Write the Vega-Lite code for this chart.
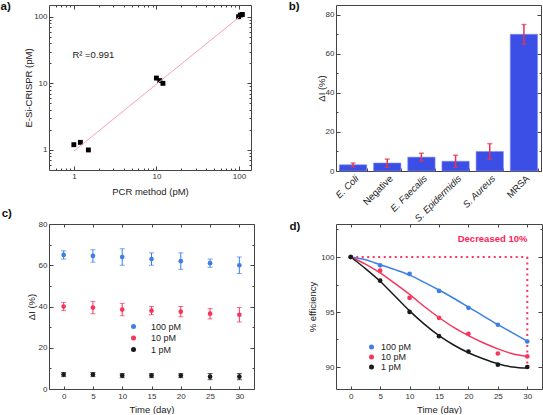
{
"$schema": "https://vega.github.io/schema/vega-lite/v6.json",
"padding": {"left": 0, "top": 0, "right": 0, "bottom": 0},
"background": "white",
"config": {
  "font": "Liberation Sans",
  "view": {"stroke": "#444", "strokeWidth": 1},
  "axis": {"domain": false, "grid": false, "labelFlush": false, "labelOverlap": false, "tickColor": "#444", "tickSize": -3, "tickWidth": 1, "labelFont": "Liberation Sans", "labelFontSize": 8, "labelColor": "#333", "labelPadding": 6, "titleFont": "Liberation Sans", "titleFontSize": 9.5, "titleFontWeight": "normal", "titleColor": "#222"},
  "title": {"anchor": "start", "frame": "group", "fontSize": 11.5, "fontWeight": "bold", "font": "Liberation Sans", "color": "#111", "offset": 0, "baseline": "alphabetic"},
  "legend": {"orient": "none", "title": null, "labelFont": "Liberation Sans", "labelColor": "#222", "symbolType": "circle", "padding": 0}
},
"columns": 2,
"spacing": {"row": 53, "column": 82},
"bounds": "flush",
"concat": [
{
  "width": 202, "height": 165,
  "title": {"text": "a)", "dx": -48.5, "dy": 12},
  "resolve": {"axis": {"x": "independent", "y": "independent"}},
  "layer": [
    {
      "data": {"values": [
        {"pcr": 1, "crispr": 1.2}, {"pcr": 1.2, "crispr": 1.3}, {"pcr": 1.5, "crispr": 1.0},
        {"pcr": 10, "crispr": 12}, {"pcr": 11, "crispr": 11}, {"pcr": 12, "crispr": 10},
        {"pcr": 99, "crispr": 100}, {"pcr": 104, "crispr": 106}, {"pcr": 110, "crispr": 108}
      ]},
      "mark": {"type": "square", "size": 24, "color": "#000", "opacity": 1},
      "encoding": {
        "x": {"field": "pcr", "type": "quantitative", "scale": {"type": "log", "domain": [0.5, 140], "nice": false},
          "axis": {"title": "PCR method (pM)", "values": [0.6,0.7,0.8,0.9,1,2,3,4,5,6,7,8,9,10,20,30,40,50,60,70,80,90,100],
            "labelExpr": "(datum.value == 1 || datum.value == 10 || datum.value == 100) ? '' + datum.value : ''",
            "tickSize": {"condition": {"test": "datum.value == 1 || datum.value == 10 || datum.value == 100", "value": -4}, "value": -2},
            "titlePadding": 4}},
        "y": {"field": "crispr", "type": "quantitative", "scale": {"type": "log", "domain": [0.5, 150], "nice": false},
          "axis": {"title": "E-Si-CRISPR (pM)", "values": [0.6,0.7,0.8,0.9,1,2,3,4,5,6,7,8,9,10,20,30,40,50,60,70,80,90,100],
            "labelExpr": "(datum.value == 1 || datum.value == 10 || datum.value == 100) ? '' + datum.value : ''",
            "tickSize": {"condition": {"test": "datum.value == 1 || datum.value == 10 || datum.value == 100", "value": -4}, "value": -2},
            "titlePadding": 0}}
      }
    },
    {
      "data": {"values": [{"pcr": 1, "crispr": 0.96}, {"pcr": 100, "crispr": 98}]},
      "mark": {"type": "line", "color": "#f5a3b8", "strokeWidth": 1},
      "encoding": {
        "x": {"field": "pcr", "type": "quantitative",
          "axis": {"orient": "top", "labels": false, "title": null, "values": [0.6,0.7,0.8,0.9,1,2,3,4,5,6,7,8,9,10,20,30,40,50,60,70,80,90,100],
            "tickSize": {"condition": {"test": "datum.value == 1 || datum.value == 10 || datum.value == 100", "value": -4}, "value": -2}}},
        "y": {"field": "crispr", "type": "quantitative",
          "axis": {"orient": "right", "labels": false, "title": null, "values": [0.6,0.7,0.8,0.9,1,2,3,4,5,6,7,8,9,10,20,30,40,50,60,70,80,90,100],
            "tickSize": {"condition": {"test": "datum.value == 1 || datum.value == 10 || datum.value == 100", "value": -4}, "value": -2}}}
      }
    },
    {
      "data": {"values": [{"pcr": 0.96, "crispr": 27, "t": "R² =0.991"}]},
      "mark": {"type": "text", "align": "left", "baseline": "middle", "fontSize": 9.5, "color": "#222", "font": "Liberation Sans"},
      "encoding": {
        "x": {"field": "pcr", "type": "quantitative", "axis": null},
        "y": {"field": "crispr", "type": "quantitative", "axis": null},
        "text": {"field": "t"}
      }
    }
  ]
},
{
  "width": 205, "height": 166,
  "title": {"text": "b)", "dx": -47.3, "dy": 11.7},
  "data": {"values": [
    {"cat": "E. Coli", "v": 3.2, "lo": 2.1, "hi": 4.1},
    {"cat": "Negative", "v": 4.1, "lo": 1.9, "hi": 6.1},
    {"cat": "E. Faecalis", "v": 7.1, "lo": 5.1, "hi": 9.1},
    {"cat": "S. Epidermidis", "v": 5, "lo": 1.9, "hi": 8.1},
    {"cat": "S. Aureus", "v": 10, "lo": 6, "hi": 14},
    {"cat": "MRSA", "v": 70, "lo": 65, "hi": 75}
  ]},
  "resolve": {"axis": {"x": "independent", "y": "independent"}},
  "layer": [
    {
      "mark": {"type": "bar", "color": "#3b4fe6", "stroke": "#7f8ff5", "strokeWidth": 0.6},
      "encoding": {
        "x": {"field": "cat", "type": "nominal", "sort": null, "scale": {"paddingInner": 0.2, "paddingOuter": 0.1},
          "axis": {"title": null, "labelAngle": -45, "labelFontSize": 9.5, "labelColor": "#222", "tickBand": "extent", "labelPadding": 5,
            "labelFontStyle": {"condition": {"test": "datum.value == 'Negative' || datum.value == 'MRSA'", "value": "normal"}, "value": "italic"}}},
        "y": {"field": "v", "type": "quantitative", "scale": {"domain": [0, 85], "nice": false},
          "axis": {"title": "ΔI (%)", "values": [0, 10, 20, 30, 40, 50, 60, 70, 80], "labelExpr": "datum.value % 20 == 0 ? datum.label : ''",
            "tickSize": {"condition": {"test": "datum.value % 20 == 0", "value": -4}, "value": -2}, "titlePadding": -1}}
      }
    },
    {
      "mark": {"type": "errorbar", "ticks": {"size": 5}, "color": "#e8334f", "thickness": 1.5},
      "encoding": {
        "x": {"field": "cat", "type": "nominal", "sort": null, "axis": null},
        "y": {"field": "lo", "type": "quantitative", "axis": null},
        "y2": {"field": "hi"}
      }
    },
    {
      "mark": {"type": "bar", "opacity": 0},
      "encoding": {
        "x": {"field": "cat", "type": "nominal", "sort": null, "axis": null},
        "y": {"field": "v", "type": "quantitative",
          "axis": {"orient": "right", "labels": false, "title": null, "values": [0, 10, 20, 30, 40, 50, 60, 70, 80],
            "tickSize": {"condition": {"test": "datum.value % 20 == 0", "value": -4}, "value": -2}}}
      }
    }
  ]
},
{
  "width": 205, "height": 165,
  "title": {"text": "c)", "dx": -47.3, "dy": 3.5},
  "data": {"values": [
    {"day": 0, "s": "100 pM", "v": 65, "lo": 63, "hi": 67},
    {"day": 5, "s": "100 pM", "v": 64.5, "lo": 61.5, "hi": 67.5},
    {"day": 10, "s": "100 pM", "v": 64, "lo": 60, "hi": 68},
    {"day": 15, "s": "100 pM", "v": 63, "lo": 60, "hi": 66},
    {"day": 20, "s": "100 pM", "v": 62, "lo": 58, "hi": 66},
    {"day": 25, "s": "100 pM", "v": 61, "lo": 59, "hi": 63},
    {"day": 30, "s": "100 pM", "v": 60, "lo": 56, "hi": 64},
    {"day": 0, "s": "10 pM", "v": 40, "lo": 38, "hi": 42},
    {"day": 5, "s": "10 pM", "v": 39.5, "lo": 36.5, "hi": 42.5},
    {"day": 10, "s": "10 pM", "v": 38.5, "lo": 35.5, "hi": 41.5},
    {"day": 15, "s": "10 pM", "v": 38, "lo": 36, "hi": 40},
    {"day": 20, "s": "10 pM", "v": 37.5, "lo": 35, "hi": 40},
    {"day": 25, "s": "10 pM", "v": 36.5, "lo": 34, "hi": 39},
    {"day": 30, "s": "10 pM", "v": 36, "lo": 32.5, "hi": 39.5},
    {"day": 0, "s": "1 pM", "v": 7, "lo": 6, "hi": 8},
    {"day": 5, "s": "1 pM", "v": 7, "lo": 6, "hi": 8},
    {"day": 10, "s": "1 pM", "v": 6.5, "lo": 5.5, "hi": 7.5},
    {"day": 15, "s": "1 pM", "v": 6.5, "lo": 5.5, "hi": 7.5},
    {"day": 20, "s": "1 pM", "v": 6.5, "lo": 5.5, "hi": 7.5},
    {"day": 25, "s": "1 pM", "v": 6, "lo": 4.5, "hi": 7.5},
    {"day": 30, "s": "1 pM", "v": 6, "lo": 4.5, "hi": 7.5}
  ]},
  "resolve": {"axis": {"x": "independent", "y": "independent"}, "legend": {"color": "independent"}},
  "layer": [
    {
      "mark": {"type": "errorbar", "ticks": {"size": 5}, "thickness": 1},
      "encoding": {
        "x": {"field": "day", "type": "quantitative", "axis": null},
        "y": {"field": "lo", "type": "quantitative", "axis": null},
        "y2": {"field": "hi"},
        "color": {"field": "s", "type": "nominal", "legend": null}
      }
    },
    {
      "mark": {"type": "circle", "size": 22, "opacity": 1},
      "encoding": {
        "x": {"field": "day", "type": "quantitative", "scale": {"domain": [-2.5, 32.5], "nice": false},
          "axis": {"title": "Time (day)", "values": [0, 5, 10, 15, 20, 25, 30], "titlePadding": 4}},
        "y": {"field": "v", "type": "quantitative", "scale": {"domain": [0, 80], "nice": false},
          "axis": {"title": "ΔI (%)", "values": [0, 10, 20, 30, 40, 50, 60, 70, 80], "labelExpr": "datum.value % 20 == 0 ? datum.label : ''",
            "tickSize": {"condition": {"test": "datum.value % 20 == 0", "value": -4}, "value": -2}, "titlePadding": 2}},
        "color": {"field": "s", "type": "nominal",
          "scale": {"domain": ["100 pM", "10 pM", "1 pM"], "range": ["#3c7fe6", "#f5365c", "#1a1a1a"]},
          "legend": {"legendX": 80, "legendY": 98, "labelFontSize": 9, "symbolSize": 25, "rowPadding": 1.5, "labelOffset": 13}}
      }
    },
    {
      "mark": {"type": "circle", "opacity": 0},
      "encoding": {
        "x": {"field": "day", "type": "quantitative", "axis": {"orient": "top", "labels": false, "title": null, "values": [0, 5, 10, 15, 20, 25, 30]}},
        "y": {"field": "v", "type": "quantitative",
          "axis": {"orient": "right", "labels": false, "title": null, "values": [0, 10, 20, 30, 40, 50, 60, 70, 80],
            "tickSize": {"condition": {"test": "datum.value % 20 == 0", "value": -4}, "value": -2}}}
      }
    }
  ]
},
{
  "width": 206, "height": 165,
  "title": {"text": "d)", "dx": -46.6, "dy": 12.5},
  "resolve": {"axis": {"x": "independent", "y": "independent"}, "legend": {"color": "independent"}},
  "layer": [
    {
      "data": {"values": [
        {"x": 0, "x2": 30, "y": 100, "y2": 100},
        {"x": 30, "x2": 30, "y": 100, "y2": 90}
      ]},
      "mark": {"type": "rule", "color": "#ff3366", "strokeWidth": 2, "strokeDash": [2, 3.5]},
      "encoding": {
        "x": {"field": "x", "type": "quantitative", "axis": null},
        "x2": {"field": "x2"},
        "y": {"field": "y", "type": "quantitative", "axis": null},
        "y2": {"field": "y2"}
      }
    },
    {
      "data": {"values": [
        {"day": 0, "s": "100 pM", "v": 100}, {"day": 2.5, "s": "100 pM", "v": 99.75}, {"day": 5, "s": "100 pM", "v": 99.3},
        {"day": 7.5, "s": "100 pM", "v": 98.85}, {"day": 10, "s": "100 pM", "v": 98.35}, {"day": 12.5, "s": "100 pM", "v": 97.7},
        {"day": 15, "s": "100 pM", "v": 97.0}, {"day": 17.5, "s": "100 pM", "v": 96.25}, {"day": 20, "s": "100 pM", "v": 95.45},
        {"day": 22.5, "s": "100 pM", "v": 94.65}, {"day": 25, "s": "100 pM", "v": 93.85}, {"day": 27.5, "s": "100 pM", "v": 93.1},
        {"day": 30, "s": "100 pM", "v": 92.35},
        {"day": 0, "s": "10 pM", "v": 100}, {"day": 2.5, "s": "10 pM", "v": 99.35}, {"day": 5, "s": "10 pM", "v": 98.55},
        {"day": 7.5, "s": "10 pM", "v": 97.6}, {"day": 10, "s": "10 pM", "v": 96.6}, {"day": 12.5, "s": "10 pM", "v": 95.5},
        {"day": 15, "s": "10 pM", "v": 94.5}, {"day": 17.5, "s": "10 pM", "v": 93.6}, {"day": 20, "s": "10 pM", "v": 92.85},
        {"day": 22.5, "s": "10 pM", "v": 92.2}, {"day": 25, "s": "10 pM", "v": 91.65}, {"day": 27.5, "s": "10 pM", "v": 91.2},
        {"day": 30, "s": "10 pM", "v": 90.95},
        {"day": 0, "s": "1 pM", "v": 100}, {"day": 2.5, "s": "1 pM", "v": 98.95}, {"day": 5, "s": "1 pM", "v": 97.8},
        {"day": 7.5, "s": "1 pM", "v": 96.45}, {"day": 10, "s": "1 pM", "v": 95.1}, {"day": 12.5, "s": "1 pM", "v": 93.9},
        {"day": 15, "s": "1 pM", "v": 92.85}, {"day": 17.5, "s": "1 pM", "v": 92.0}, {"day": 20, "s": "1 pM", "v": 91.3},
        {"day": 22.5, "s": "1 pM", "v": 90.75}, {"day": 25, "s": "1 pM", "v": 90.3}, {"day": 27.5, "s": "1 pM", "v": 90.0},
        {"day": 30, "s": "1 pM", "v": 89.9}
      ]},
      "mark": {"type": "line", "interpolate": "monotone", "strokeWidth": 1.5},
      "encoding": {
        "x": {"field": "day", "type": "quantitative", "axis": null},
        "y": {"field": "v", "type": "quantitative", "axis": null},
        "color": {"field": "s", "type": "nominal", "scale": {"domain": ["100 pM", "10 pM", "1 pM"], "range": ["#3a5df0", "#ff2f5a", "#111111"]}, "legend": null}
      }
    },
    {
      "data": {"values": [
        {"day": 0, "s": "100 pM", "v": 100}, {"day": 5, "s": "100 pM", "v": 99.24}, {"day": 10, "s": "100 pM", "v": 98.46},
        {"day": 15, "s": "100 pM", "v": 96.92}, {"day": 20, "s": "100 pM", "v": 95.38}, {"day": 25, "s": "100 pM", "v": 93.84},
        {"day": 30, "s": "100 pM", "v": 92.32},
        {"day": 0, "s": "10 pM", "v": 100}, {"day": 5, "s": "10 pM", "v": 98.76}, {"day": 10, "s": "10 pM", "v": 96.28},
        {"day": 15, "s": "10 pM", "v": 94.47}, {"day": 20, "s": "10 pM", "v": 93.02}, {"day": 25, "s": "10 pM", "v": 91.23},
        {"day": 30, "s": "10 pM", "v": 90.96},
        {"day": 0, "s": "1 pM", "v": 100}, {"day": 5, "s": "1 pM", "v": 97.85}, {"day": 10, "s": "1 pM", "v": 95.01},
        {"day": 15, "s": "1 pM", "v": 92.8}, {"day": 20, "s": "1 pM", "v": 91.41}, {"day": 25, "s": "1 pM", "v": 90.21},
        {"day": 30, "s": "1 pM", "v": 90.0}
      ]},
      "mark": {"type": "circle", "size": 22, "opacity": 1},
      "encoding": {
        "x": {"field": "day", "type": "quantitative", "scale": {"domain": [-2.5, 32.5], "nice": false},
          "axis": {"title": "Time (day)", "values": [0, 5, 10, 15, 20, 25, 30], "titlePadding": 4}},
        "y": {"field": "v", "type": "quantitative", "scale": {"domain": [88, 103], "nice": false, "zero": false},
          "axis": {"title": "% efficiency", "values": [90, 92.5, 95, 97.5, 100, 102.5], "labelExpr": "datum.value % 5 == 0 ? datum.label : ''",
            "tickSize": {"condition": {"test": "datum.value % 5 == 0", "value": -4}, "value": -2}, "titlePadding": 3}},
        "color": {"field": "s", "type": "nominal",
          "legend": {"legendX": 31, "legendY": 118.5, "labelFontSize": 9, "symbolSize": 25, "rowPadding": 0, "labelOffset": 5}}
      }
    },
    {
      "data": {"values": [{"x": 24.1, "y": 101.6, "t": "Decreased 10%"}]},
      "mark": {"type": "text", "align": "center", "baseline": "middle", "fontSize": 9.5, "fontWeight": "bold", "color": "#ff2255", "font": "Liberation Sans"},
      "encoding": {
        "x": {"field": "x", "type": "quantitative", "axis": null},
        "y": {"field": "y", "type": "quantitative", "axis": null},
        "text": {"field": "t"}
      }
    },
    {
      "data": {"values": [{"day": 0, "v": 100}]},
      "mark": {"type": "circle", "opacity": 0},
      "encoding": {
        "x": {"field": "day", "type": "quantitative", "axis": {"orient": "top", "labels": false, "title": null, "values": [0, 5, 10, 15, 20, 25, 30]}},
        "y": {"field": "v", "type": "quantitative",
          "axis": {"orient": "right", "labels": false, "title": null, "values": [90, 92.5, 95, 97.5, 100, 102.5],
            "tickSize": {"condition": {"test": "datum.value % 5 == 0", "value": -4}, "value": -2}}}
      }
    }
  ]
}
]
}
